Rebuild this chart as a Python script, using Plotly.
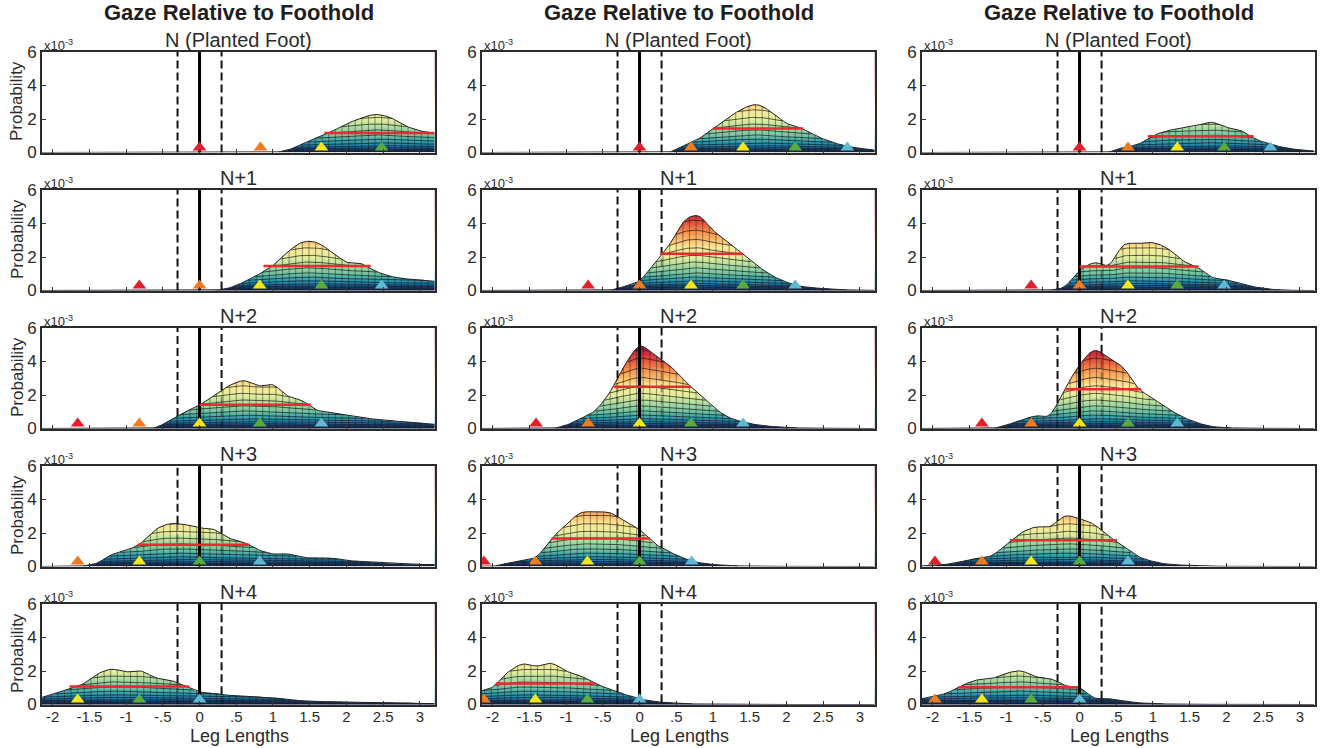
import numpy as np
import plotly.graph_objects as go

# knots of every profile: -2.2, -2.0, ... 3.2 leg lengths
KNOTS = [-2.2, -2.0, -1.8, -1.6, -1.4, -1.2, -1.0, -0.8, -0.6, -0.4, -0.2, 0.0, 0.2, 0.4,
         0.6, 0.8, 1.0, 1.2, 1.4, 1.6, 1.8, 2.0, 2.2, 2.4, 2.6, 2.8, 3.0, 3.2]

c1_n0 = [0,0,0,0,0,0,0,0,0,0,0,0,0,0,0,0, 0,.15,.5,.9,1.25,1.7,2.05,2.27,2.08,1.6,1.3,1.15]
c1_n1 = [0,0,0,0,0,0,0,0,0,0,0,0, .02,.15,.5,.95,1.5,2.3,2.88,2.85,2.3,1.7,1.6,1.15,.85,.7,.64,.55]
c1_n2 = [0,0,0,0,0,0,0, .01,.06,.5,1.0,1.4,2.0,2.55,2.85,2.55,2.6,1.95,1.65,1.1,.95,.8,.65,.55,.45,.4,.33,.25]
c1_n3 = [0,0,.01,.03,.2,.7,.95,1.4,2.2,2.55,2.5,2.3,2.2,1.7,1.45,1.0,.75,.75,.55,.5,.5,.36,.3,.24,.18,.14,.12,.12]
c1_n4 = [.35,.6,.9,1.2,1.8,2.1,1.95,2.0,1.6,1.45,1.1,.75,.68,.55,.5,.45,.42,.3,.22,.18,.16,.14,.12,.1,.1,.09,.08,.05]

c2_n0 = [0,0,0,0,0,0,0,0,0,0,0,0, 0,.02,.4,.8,1.45,2.05,2.6,2.85,2.4,1.75,1.45,1.0,.65,.4,.25,.14]
c2_n1 = [0,0,0,0,0,0,0,0, .01,.03,.25,.6,1.6,2.7,4.1,4.45,3.6,2.9,2.2,1.5,.9,.5,.25,.15,.08,.04,.02,.01]
c2_n2 = [0,0,0,0,0,0, .2,.6,1.1,2.2,3.8,4.9,4.4,3.8,2.9,2.1,1.3,.7,.4,.22,.12,.06,.03,.02,.01,.01,0,0]
c2_n3 = [.02,.02,.2,.36,.6,1.65,2.5,3.2,3.25,3.2,2.7,2.2,1.4,.9,.5,.24,.12,.06,.03,.02,.01,.01,0,0,0,0,0,0]
c2_n4 = [.75,1.05,1.9,2.4,2.3,2.45,2.0,1.7,1.25,.9,.6,.34,.18,.1,.05,.03,.02,.01,0,0,0,0,0,0,0,0,0,0]

c3_n0 = [0,0,0,0,0,0,0,0,0,0,0,0, 0,.04,.3,.5,1.0,1.3,1.45,1.6,1.8,1.5,1.3,.8,.5,.28,.16,.08]
c3_n1 = [0,0,0,0,0,0,0,0,0, .03,.25,1.2,1.65,1.55,2.7,2.8,2.85,2.5,1.8,1.4,.8,.64,.4,.2,.08,.02,.01,0]
c3_n2 = [0,0,0,0,0,0, .2,.5,.75,.85,2.35,3.8,4.65,4.2,3.6,2.4,1.8,1.2,.7,.35,.12,.05,.02,.01,.01,0,0,0]
c3_n3 = [.02,.06,.14,.3,.5,.65,1.3,2.0,2.35,2.4,3.0,2.85,2.5,1.8,1.2,.6,.3,.14,.08,.04,.02,.01,0,0,0,0,0,0]
c3_n4 = [.3,.46,.7,1.14,1.46,1.54,1.86,2.0,1.66,1.54,1.14,1.0,.4,.34,.2,.1,.06,.03,.02,.01,.01,0,0,0,0,0,0,0]

PROFILES = [[c1_n0, c1_n1, c1_n2, c1_n3, c1_n4],
            [c2_n0, c2_n1, c2_n2, c2_n3, c2_n4],
            [c3_n0, c3_n1, c3_n2, c3_n3, c3_n4]]

# half-maximum bars: from, to, height
c1_half = [(1.7, 3.2, 1.16), (.87, 2.33, 1.46), (0, 1.52, 1.42), (-.84, .68, 1.3), (-1.77, -.14, 1.08)]
c2_half = [(1.0, 2.23, 1.44), (.28, 1.41, 2.2), (-.35, .7, 2.5), (-1.2, .14, 1.67), (-1.96, -.6, 1.25)]
c3_half = [(.93, 2.37, .97), (0, 1.62, 1.44), (-.2, .84, 2.35), (-.95, .51, 1.57), (-1.65, -.02, 1.03)]
HALF = [c1_half, c2_half, c3_half]

# foot-placement triangles: red, orange, yellow, green, cyan
c1_feet = [(0, .83, 1.66, 2.48, None), (-.82, 0, .82, 1.66, 2.48), (-1.66, -.82, 0, .82, 1.66),
           (None, -1.66, -.82, 0, .82), (None, None, -1.66, -.82, 0)]
c2_feet = [(0, .7, 1.41, 2.12, 2.83), (-.7, 0, .7, 1.41, 2.12), (-1.41, -.7, 0, .7, 1.41),
           (-2.12, -1.42, -.71, 0, .71), (None, -2.12, -1.42, -.71, 0)]
c3_feet = [(0, .66, 1.33, 1.97, 2.6), (-.66, 0, .66, 1.33, 1.97), (-1.33, -.66, 0, .66, 1.33),
           (-1.97, -1.33, -.66, 0, .66), (None, -1.97, -1.33, -.66, 0)]
FEET = [c1_feet, c2_feet, c3_feet]
FOOT_COLORS = ["#e21f2b", "#ee7a22", "#f6e51a", "#5aaa3c", "#5fb9d2"]

COLUMN_TITLE = "Gaze Relative to Foothold"
ROW_TITLES = ["N (Planted Foot)", "N+1", "N+2", "N+3", "N+4"]
X_TICKS = [-2, -1.5, -1, -.5, 0, .5, 1, 1.5, 2, 2.5, 3]
X_LABELS = ["-2", "-1.5", "-1", "-.5", "0", ".5", "1", "1.5", "2", "2.5", "3"]
Y_TICKS = [0, 2, 4, 6]
GUIDE = .3
# colour of the surface by height
HEIGHT_COLORS = [(0, "#1c2a63"), (.2, "#1d4f96"), (.4, "#1f7fb2"), (.7, "#33a3ad"), (1.0, "#6cc2a4"),
                 (1.5, "#a9dba0"), (2.0, "#e4ee9c"), (2.6, "#fbe795"), (3.1, "#fbb765"),
                 (3.6, "#f58a4b"), (4.1, "#e2533c"), (4.6, "#c8263f"), (5.2, "#8f1650")]
CURVE_LEVELS = [.05, .12, .2, .3, .42, .58, .8, 1.05, 1.35, 1.7, 2.1, 2.55, 3.05, 3.6, 4.2, 4.7]

W, H = 1325, 748
COL_LEFT = [42, 482, 922]
PANEL_W = 392.5
ROW_TOP = [52, 190, 328, 466, 604]
PANEL_H = 100.5
X_RANGE = [-2.146, 3.2]
TEXT = "#2a2a2a"
FONT = "Liberation Sans"

fx = lambda p: p / W
fy = lambda p: 1 - p / H


def smooth(grid, xk, yk):
    xk, yk = np.asarray(xk), np.asarray(yk)
    slope = np.gradient(yk, xk)
    i = np.clip(np.searchsorted(xk, grid) - 1, 0, len(xk) - 2)
    d = xk[i + 1] - xk[i]
    t = (grid - xk[i]) / d
    out = ((2*t**3 - 3*t**2 + 1) * yk[i] + (t**3 - 2*t**2 + t) * d * slope[i]
           + (-2*t**3 + 3*t**2) * yk[i + 1] + (t**3 - t**2) * d * slope[i + 1])
    return np.clip(out, 0, None)


fig = go.Figure()
layout = {}
annotations = []
zmax = HEIGHT_COLORS[-1][0]
colorscale = [[h / zmax, c] for h, c in HEIGHT_COLORS]
fine = np.arange(-2.2, 3.2001, .02)
ribs = np.arange(-2.2, 3.2001, .09)
ys = np.arange(0, 6.01, .1)

for c in range(3):
    for r in range(5):
        n = c * 5 + r + 1
        xa, ya = f"x{n}", f"y{n}"
        kw = dict(xaxis=xa, yaxis=ya, showlegend=False, hoverinfo="skip")
        prof = np.array(PROFILES[c][r], float)
        p = smooth(fine, KNOTS, prof)
        top = p.max()

        fig.add_trace(go.Heatmap(x=[-2.3, .5, 3.3], y=ys, z=[[v, v, v] for v in ys], zmin=0, zmax=zmax,
                                 colorscale=colorscale, zsmooth="best", showscale=False, **kw))
        mask_x = [-2.3] + list(fine) + [3.3, 3.3] + list(fine[::-1]) + [-2.3]
        mask_y = [float(p[0])] + list(p) + [float(p[-1]), 6.2] + [6.2] * len(fine) + [6.2]
        fig.add_trace(go.Scatter(x=mask_x, y=mask_y, fill="toself", fillcolor="white", mode="none", **kw))
        # surface mesh
        mx, my = [], []
        for level in CURVE_LEVELS:
            curve = level * (.7 + .3 * p / top)
            curve = np.where(curve <= p, curve, np.nan)
            mx += list(fine) + [None]
            my += [None if np.isnan(v) else float(v) for v in curve] + [None]
        fig.add_trace(go.Scatter(x=mx, y=my, mode="lines", line=dict(color="rgba(20,20,20,.68)", width=1), **kw))
        vx, vy = [], []
        for x0, h in zip(ribs, smooth(ribs, KNOTS, prof)):
            if h > .01:
                vx += [x0, x0, None]
                vy += [0, h, None]
        fig.add_trace(go.Scatter(x=vx, y=vy, mode="lines", line=dict(color="rgba(20,20,20,.55)", width=.8), **kw))
        fig.add_trace(go.Scatter(x=fine, y=p, mode="lines", line=dict(color="#222", width=1), **kw))

        # guides
        for g in (-GUIDE, GUIDE):
            h = float(np.interp(g, fine, p))
            fig.add_trace(go.Scatter(x=[g, g], y=[h, 6], mode="lines",
                                     line=dict(color="#111", width=2, dash="8px,4px"), **kw))
            if h > 0:
                fig.add_trace(go.Scatter(x=[g, g], y=[0, h], mode="lines",
                                         line=dict(color="rgba(0,0,0,.4)", width=1.6, dash="8px,4px"), **kw))
        fig.add_trace(go.Scatter(x=[0, 0], y=[0, 6], mode="lines", line=dict(color="#000", width=3), **kw))
        a, b, hh = HALF[c][r]
        fig.add_trace(go.Scatter(x=[a, b], y=[hh, hh], mode="lines", line=dict(color="#ea2a2e", width=2.5), **kw))
        for val, col in zip(FEET[c][r], FOOT_COLORS):
            if val is not None:
                fig.add_trace(go.Scatter(x=[val], y=[.3], mode="markers",
                                         marker=dict(symbol="triangle-up", size=12, color=col,
                                                     line=dict(width=0)), **kw))

        left, t = COL_LEFT[c], ROW_TOP[r]
        bottom = r == 4
        layout[f"xaxis{n}"] = dict(domain=[fx(left), fx(left + PANEL_W)], anchor=ya, range=X_RANGE,
                                   tickvals=X_TICKS, ticktext=X_LABELS, showticklabels=bottom,
                                   ticks="inside", ticklen=4, tickwidth=1, tickcolor="#333",
                                   showline=True, mirror=True, linecolor="#2b2b2b", linewidth=1.6,
                                   showgrid=False, zeroline=False, ticklabelstandoff=-2,
                                   tickfont=dict(size=15, color=TEXT, family=FONT))
        layout[f"yaxis{n}"] = dict(domain=[fy(t + PANEL_H), fy(t)], anchor=xa, range=[0, 6],
                                   tickvals=Y_TICKS, ticks="inside", ticklen=4, tickwidth=1, tickcolor="#333",
                                   showline=True, mirror=True, linecolor="#2b2b2b", linewidth=1.6,
                                   showgrid=False, zeroline=False,
                                   tickfont=dict(size=17, color=TEXT, family=FONT))

        cx = left + PANEL_W / 2 + 1
        annotations.append(dict(text=ROW_TITLES[r], x=fx(cx - 1), y=fy(t - 12), xref="paper", yref="paper",
                                showarrow=False, xanchor="center", yanchor="middle",
                                font=dict(size=20, color=TEXT, family=FONT)))
        annotations.append(dict(text="x10<sup>-3</sup>", x=fx(left), y=fy(t - 7), xref="paper", yref="paper",
                                showarrow=False, xanchor="left", yanchor="middle",
                                font=dict(size=13, color=TEXT, family=FONT)))
        if c == 0:
            annotations.append(dict(text="Probability", x=fx(17), y=fy(t + 49), xref="paper", yref="paper",
                                    showarrow=False, textangle=-90, xanchor="center", yanchor="middle",
                                    font=dict(size=17, color=TEXT, family=FONT)))
        if bottom:
            annotations.append(dict(text="Leg Lengths", x=fx(cx), y=fy(735.5), xref="paper", yref="paper",
                                    showarrow=False, xanchor="center", yanchor="middle",
                                    font=dict(size=18, color=TEXT, family=FONT)))
    annotations.append(dict(text=f"<b>{COLUMN_TITLE}</b>", x=fx(COL_LEFT[c] + 197), y=fy(13), xref="paper",
                            yref="paper", showarrow=False, xanchor="center", yanchor="middle",
                            font=dict(size=22, color="#1e1e1e", family=FONT)))

fig.update_layout(width=W, height=H, margin=dict(l=0, r=0, t=0, b=0, autoexpand=False), paper_bgcolor="white",
                  plot_bgcolor="white", annotations=annotations, **layout)
fig.write_html("out.html", config=dict(displayModeBar=False),
               post_script="document.body.style.margin='0';document.body.style.overflow='hidden';")
